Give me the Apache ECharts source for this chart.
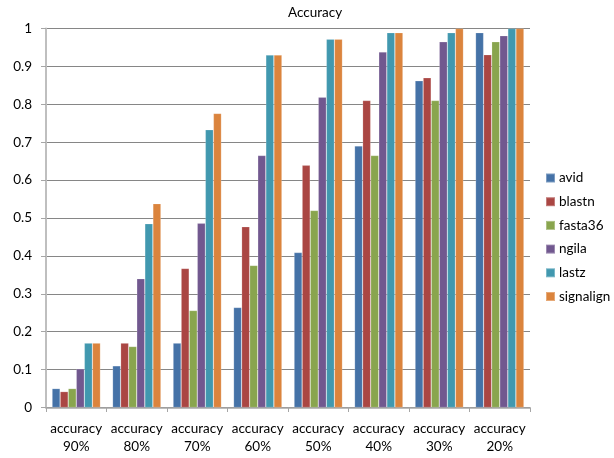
<!DOCTYPE html>
<html>
<head>
<meta charset="utf-8">
<script src="https://cdn.jsdelivr.net/npm/echarts@6/dist/echarts.min.js"></script>
<style>
  html, body { margin: 0; padding: 0; background: #fff; }
  #chart { width: 614px; height: 458px; }
</style>
</head>
<body>
<div id="chart"></div>
<script>
// Identity thresholds along the category axis
const categories = ['accuracy\n90%', 'accuracy\n80%', 'accuracy\n70%', 'accuracy\n60%',
                    'accuracy\n50%', 'accuracy\n40%', 'accuracy\n30%', 'accuracy\n20%'];

// Accuracy of each aligner at each threshold
const avid      = [0.050, 0.110, 0.170, 0.264, 0.409, 0.690, 0.862, 0.989];
const blastn    = [0.042, 0.170, 0.367, 0.477, 0.639, 0.810, 0.870, 0.931];
const fasta36   = [0.050, 0.161, 0.256, 0.375, 0.520, 0.665, 0.810, 0.965];
const ngila     = [0.102, 0.340, 0.486, 0.665, 0.819, 0.938, 0.965, 0.981];
const lastz     = [0.170, 0.485, 0.733, 0.930, 0.972, 0.989, 0.989, 1.000];
const signalign = [0.170, 0.538, 0.776, 0.930, 0.972, 0.989, 1.000, 1.000];

// Value-axis tick labels
const yTickLabels = ['0', '0.1', '0.2', '0.3', '0.4', '0.5', '0.6', '0.7', '0.8', '0.9', '1'];

const seriesDefs = [
  { name: 'avid',      data: avid,      color: '#4572A7' },
  { name: 'blastn',    data: blastn,    color: '#AA4643' },
  { name: 'fasta36',   data: fasta36,   color: '#89A54E' },
  { name: 'ngila',     data: ngila,     color: '#71588F' },
  { name: 'lastz',     data: lastz,     color: '#4198AF' },
  { name: 'signalign', data: signalign, color: '#DB843D' }
];

const FONT = 'Lato, "Liberation Sans", sans-serif';

const chart = echarts.init(document.getElementById('chart'), null, { renderer: 'canvas' });

chart.setOption({
  animation: false,
  backgroundColor: '#ffffff',
  textStyle: { fontFamily: FONT },
  title: {
    text: 'Accuracy',
    left: 288,
    top: 6,
    padding: 0,
    textStyle: { fontFamily: FONT, fontSize: 13.5, fontWeight: 'normal', color: '#000' }
  },
  legend: {
    orient: 'vertical',
    left: 545,
    top: 170,
    padding: 0,
    itemWidth: 9,
    itemHeight: 9,
    itemGap: 7.7,
    icon: 'rect',
    textStyle: { fontFamily: FONT, fontSize: 13.5, color: '#000', lineHeight: 16, padding: [0, 0, 0, -1] },
    data: seriesDefs.map(s => s.name)
  },
  grid: { left: 46, right: 84, top: 28.5, bottom: 50.5, containLabel: false },
  xAxis: {
    type: 'category',
    data: categories,
    axisLine: { lineStyle: { color: '#A6A6A6', width: 1.5 } },
    axisTick: { show: true, length: 4.5, lineStyle: { color: '#A6A6A6', width: 1 } },
    axisLabel: {
      interval: 0,
      margin: 11.5,
      fontFamily: FONT,
      fontSize: 13.5,
      lineHeight: 18.5,
      color: '#000'
    },
    splitLine: { show: false }
  },
  yAxis: {
    type: 'value',
    min: 0,
    max: 1,
    interval: 0.1,
    axisLine: { show: true, lineStyle: { color: '#BFBFBF', width: 2 } },
    axisTick: { show: true, length: 5, lineStyle: { color: '#A6A6A6', width: 1 } },
    axisLabel: {
      margin: 14,
      fontFamily: FONT,
      fontSize: 13.5,
      color: '#000',
      formatter: (v) => yTickLabels[Math.round(v * 10)]
    },
    splitLine: { show: true, lineStyle: { color: '#868686', width: 1 } }
  },
  series: seriesDefs.map(s => ({
    name: s.name,
    type: 'bar',
    data: s.data,
    barGap: '0%',
    barCategoryGap: '20%',
    itemStyle: {
      color: s.color,
      borderColor: 'rgba(255,255,255,0.3)',
      borderWidth: 0.6
    },
    emphasis: { disabled: true }
  }))
});
</script>
</body>
</html>
